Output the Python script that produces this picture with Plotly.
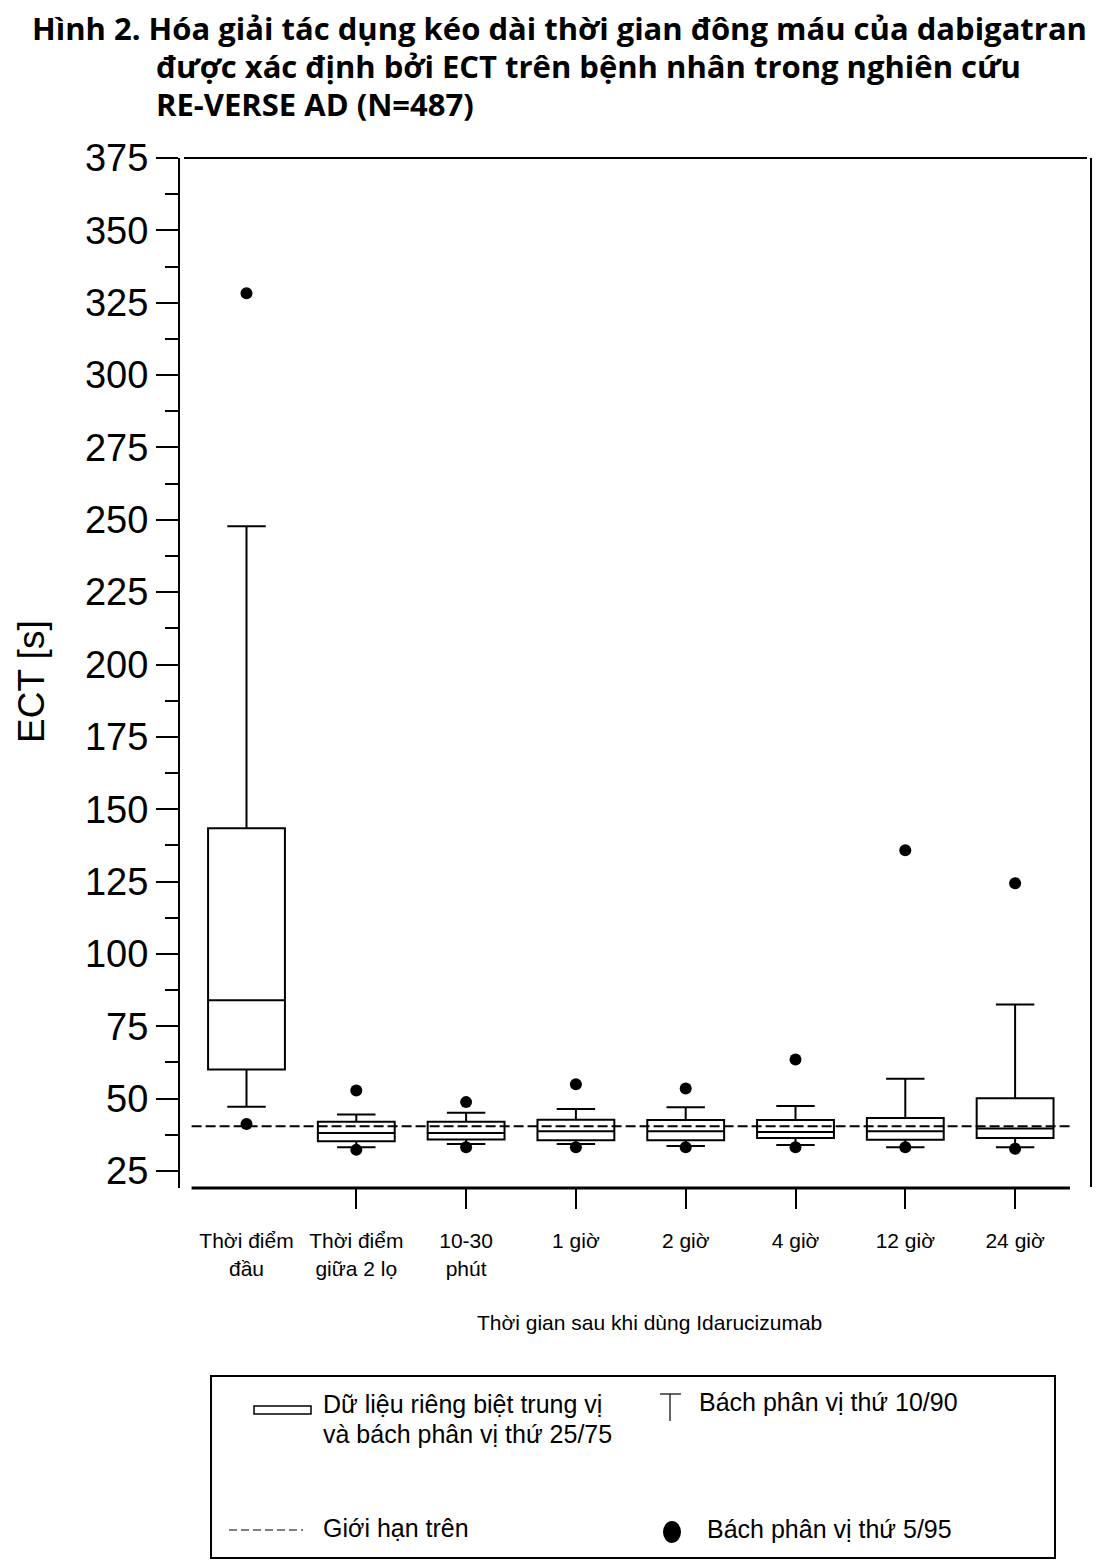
import plotly.graph_objects as go

# ECT (s) percentiles per time point
categories = ["Thời điểm<br>đầu", "Thời điểm<br>giữa 2 lọ", "10-30<br>phút", "1 giờ",
              "2 giờ", "4 giờ", "12 giờ", "24 giờ"]
p5 = [41.2, 32.3, 33.2, 33.2, 33.2, 33.2, 33.2, 32.7]
p10 = [47.2, 33.2, 34.3, 34.3, 33.6, 34.0, 33.2, 33.2]
p25 = [60.1, 35.3, 35.9, 35.6, 35.6, 36.4, 35.8, 36.4]
median = [84.0, 38.1, 38.1, 38.7, 38.7, 38.5, 38.7, 39.7]
p75 = [143.4, 42.0, 42.0, 42.7, 42.6, 42.6, 43.3, 50.1]
p90 = [247.8, 44.5, 45.1, 46.4, 47.0, 47.5, 56.9, 82.5]
p95 = [328.3, 52.8, 48.8, 55.0, 53.5, 63.5, 135.8, 124.4]
uln = 40.5  # gioi han tren

title_lines = ["Hình 2. Hóa giải tác dụng kéo dài thời gian đông máu của dabigatran",
               "được xác định bởi ECT trên bệnh nhân trong nghiên cứu",
               "RE-VERSE AD (N=487)"]
legend_texts = ["Dữ liệu riêng biệt trung vị", "và bách phân vị thứ 25/75",
                "Bách phân vị thứ 10/90", "Giới hạn trên", "Bách phân vị thứ 5/95"]

# page body has an 8px margin, so the figure is drawn a bit smaller
OFF = 8
W, H = 1117 - OFF, 1560 - OFF
L, R, T, B = 180, 1091, 158, 1188
pos = list(range(len(categories)))


def px(x):
    return (x - L) / (R - L)


def py(y):
    return (B - y) / (B - T)


fig = go.Figure()

fig.add_trace(go.Box(
    x=pos, q1=p25, median=median, q3=p75, lowerfence=p10, upperfence=p90,
    width=0.70, whiskerwidth=0.5, boxpoints=False,
    line=dict(color="black", width=2), fillcolor="white",
    hoverinfo="skip", showlegend=False))

fig.add_trace(go.Scatter(
    x=pos + pos, y=p5 + p95, mode="markers",
    marker=dict(color="black", size=12), showlegend=False, hoverinfo="skip"))

# a second x axis only carries the tick marks (none under the first group)
fig.add_trace(go.Scatter(x=[None], y=[None], xaxis="x2", showlegend=False))

shapes = [
    dict(type="line", xref="x", yref="y", x0=-0.5, x1=len(categories) - 0.5, y0=uln, y1=uln,
         line=dict(color="black", width=2, dash="10px,4px"), layer="above"),
    dict(type="line", xref="paper", yref="paper", x0=px(184), x1=px(1087), y0=1, y1=1,
         line=dict(color="black", width=2)),
    dict(type="line", xref="paper", yref="paper", x0=1, x1=1, y0=1, y1=py(1187),
         line=dict(color="black", width=2)),
    dict(type="line", xref="x", yref="paper", x0=-0.5, x1=len(categories) - 0.5, y0=0, y1=0,
         line=dict(color="black", width=3)),
    # legend frame and symbols
    dict(type="rect", xref="paper", yref="paper", x0=px(211), x1=px(1055), y0=py(1376), y1=py(1558),
         line=dict(color="black", width=2)),
    dict(type="rect", xref="paper", yref="paper", x0=px(254), x1=px(311), y0=py(1406), y1=py(1414),
         line=dict(color="black", width=1.5)),
    dict(type="line", xref="paper", yref="paper", x0=px(660), x1=px(681), y0=py(1394), y1=py(1394),
         line=dict(color="black", width=1.2)),
    dict(type="line", xref="paper", yref="paper", x0=px(670), x1=px(670), y0=py(1394), y1=py(1421),
         line=dict(color="black", width=1.2)),
    dict(type="line", xref="paper", yref="paper", x0=px(229), x1=px(303), y0=py(1530), y1=py(1530),
         line=dict(color="black", width=1, dash="8px,4px")),
    dict(type="circle", xref="paper", yref="paper", x0=px(663), x1=px(681), y0=py(1521), y1=py(1543),
         fillcolor="black", line=dict(color="black", width=0)),
]

ann = []
title_pos = [(30, 28), (154, 66), (154, 104)]
for txt, (x, y) in zip(title_lines, title_pos):
    ann.append(dict(text="<b>" + txt + "</b>", x=px(x), y=py(y), xref="paper", yref="paper",
                    xanchor="left", yanchor="middle", showarrow=False,
                    font=dict(family="Open Sans", size=31, color="black")))
ann.append(dict(text="ECT [s]", x=px(31), y=py(682), xref="paper", yref="paper",
                textangle=-90, showarrow=False, xanchor="center", yanchor="middle",
                font=dict(size=37, color="black")))
ann.append(dict(text="Thời gian sau khi dùng Idarucizumab", x=px(649), y=py(1322),
                xref="paper", yref="paper", showarrow=False, xanchor="center", yanchor="middle",
                font=dict(size=21, color="black")))
leg_pos = [(321, 1404), (321, 1434), (697, 1402), (321, 1528), (705, 1529)]
for txt, (x, y) in zip(legend_texts, leg_pos):
    ann.append(dict(text=txt, x=px(x), y=py(y), xref="paper", yref="paper", showarrow=False,
                    xanchor="left", yanchor="middle", font=dict(size=25, color="black")))

x0 = (L - 246.5) / 109.8
x1 = (R - 246.5) / 109.8

fig.update_layout(
    width=W, height=H,
    margin=dict(l=L - OFF, r=1117 - R, t=T - OFF, b=1560 - B, pad=0),
    paper_bgcolor="white", plot_bgcolor="white",
    font=dict(family="Liberation Sans, Arial, sans-serif", color="black"),
    showlegend=False,
    shapes=shapes, annotations=ann,
    xaxis=dict(range=[x0, x1], tickvals=pos, ticktext=categories, ticks="outside",
               ticklen=34, tickcolor="rgba(0,0,0,0)", showgrid=False, zeroline=False,
               showline=False, tickfont=dict(size=21)),
    xaxis2=dict(overlaying="x", matches="x", anchor="y", side="bottom",
                tickvals=pos[1:], ticks="outside", ticklen=20, tickwidth=2, tickcolor="black",
                showticklabels=False, showgrid=False, zeroline=False, showline=False),
    yaxis=dict(range=[25 - (B - 1171) / ((B - T) / 355.88), 375], tick0=25, dtick=25,
               ticks="outside", ticklen=22, tickwidth=2, tickcolor="black",
               showline=True, linecolor="black", linewidth=2,
               showgrid=False, zeroline=False, tickfont=dict(size=38),
               minor=dict(tick0=25, dtick=12.5, ticks="outside", ticklen=13, tickwidth=2,
                          tickcolor="black", showgrid=False)),
)

fig.write_html("out.html")
